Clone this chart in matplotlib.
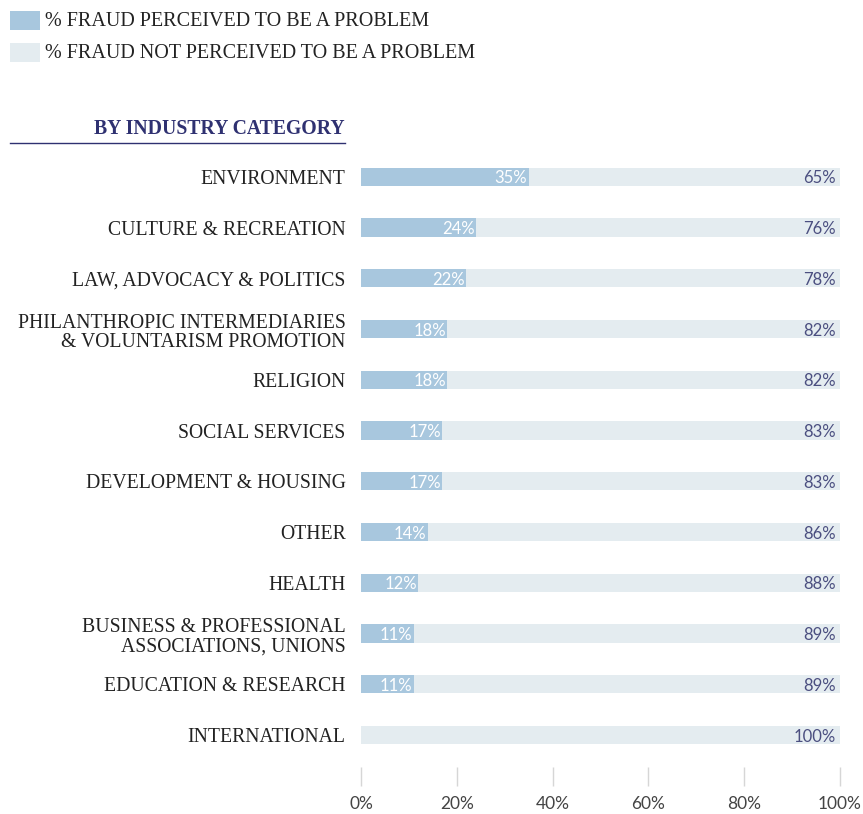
import numpy as np
import matplotlib
matplotlib.use('Agg')
import matplotlib.pyplot as plt
from matplotlib.patches import Rectangle

# data
categories = ['ENVIRONMENT', 'CULTURE & RECREATION', 'LAW, ADVOCACY & POLITICS',
              'PHILANTHROPIC INTERMEDIARIES\n& VOLUNTARISM PROMOTION', 'RELIGION',
              'SOCIAL SERVICES', 'DEVELOPMENT & HOUSING', 'OTHER', 'HEALTH',
              'BUSINESS & PROFESSIONAL\nASSOCIATIONS, UNIONS', 'EDUCATION & RESEARCH',
              'INTERNATIONAL']
problem = [35, 24, 22, 18, 18, 17, 17, 14, 12, 11, 11, 0]
not_problem = [65, 76, 78, 82, 82, 83, 83, 86, 88, 89, 89, 100]
xticks = [0, 20, 40, 60, 80, 100]
legend_labels = ['% FRAUD PERCEIVED TO BE A PROBLEM', '% FRAUD NOT PERCEIVED TO BE A PROBLEM']

blue = '#a8c7de'
light = '#e4ecf0'
navy = '#2f3171'
valcol = '#4b4f80'
serif = 'Liberation Serif'
sans = 'Lato'

W, H = 863, 814
fig = plt.figure(figsize=(W / 100, H / 100), dpi=100)
ax = fig.add_axes([361 / W, 1 - 767 / H, (840 - 361) / W, (767 - 152) / H])

y = np.arange(len(categories))
ax.barh(y, problem, height=0.36, color=blue, zorder=2)
ax.barh(y, not_problem, left=problem, height=0.36, color=light, zorder=2)

for i in range(len(categories)):
    if problem[i] > 0:
        ax.text(problem[i] - 0.3, i + 0.03, '%d%%' % problem[i], ha='right', va='center',
                color='white', fontsize=12, family=sans, zorder=3)
    ax.text(99.2, i + 0.03, '%d%%' % not_problem[i], ha='right', va='center',
            color=valcol, fontsize=12, family=sans, zorder=3)
    ax.text(-3.2, i + (0.08 if '\n' in categories[i] else 0.05), categories[i], ha='right',
            va='center', fontsize=14.2, family=serif, color='#222222',
            linespacing=1.02, transform=ax.transData)

ax.set_xlim(0, 100)
ax.set_ylim(11.63, -0.49)
ax.set_yticks([])
ax.set_xticks(xticks)
ax.set_xticklabels(['%d%%' % t for t in xticks], family=sans, fontsize=12.5,
                   color='#444444')
ax.tick_params(axis='x', length=14, width=1, color='#d6d6d6', pad=7)
for s in ['top', 'right', 'left', 'bottom']:
    ax.spines[s].set_visible(False)

# section title with rule
fig.text(345 / W, 1 - 129 / H, 'BY INDUSTRY CATEGORY', ha='right', va='center',
         fontsize=14.2, fontweight='bold', family=serif, color=navy)
fig.add_artist(plt.Line2D([10 / W, 345 / W], [1 - 143 / H, 1 - 143 / H], color=navy, lw=1))

# legend drawn by hand
for k, (lab, col) in enumerate(zip(legend_labels, [blue, light])):
    top = 11 + 32 * k
    fig.add_artist(Rectangle((10 / W, 1 - (top + 19) / H), 30 / W, 19 / H,
                             facecolor=col, edgecolor='none', transform=fig.transFigure))
    fig.text(45 / W, 1 - (top + 11) / H, lab, ha='left', va='center',
             fontsize=14.5, family=serif, color='#222222')

fig.savefig('out.png', dpi=100)
